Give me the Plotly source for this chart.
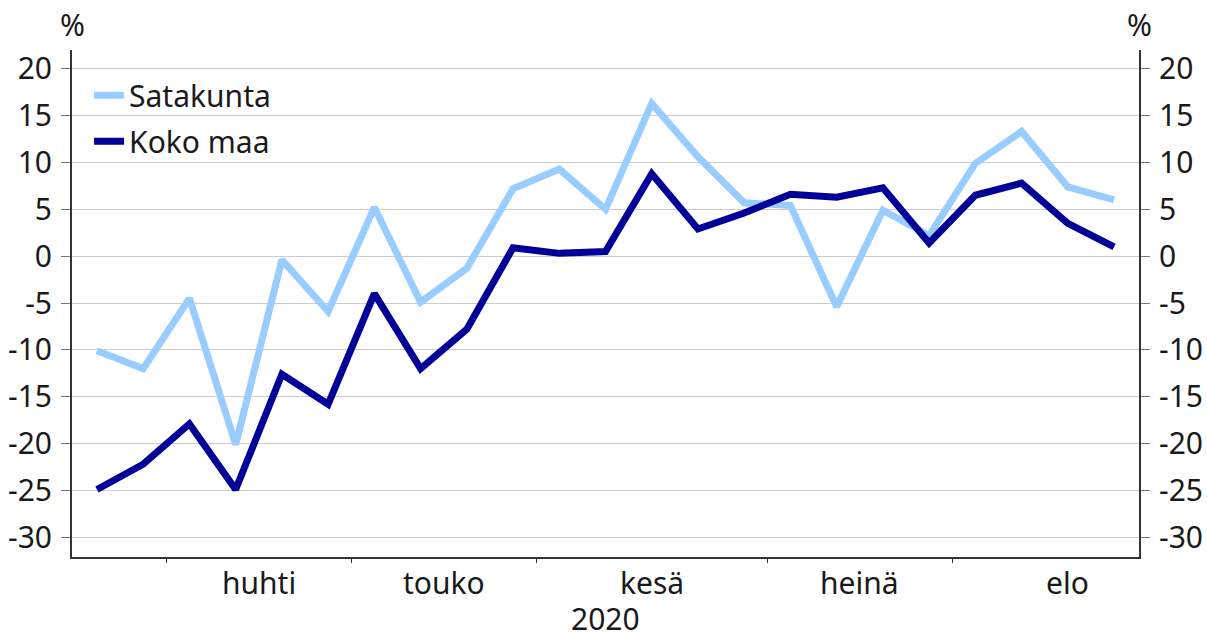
import plotly.graph_objects as go

weeks = list(range(23))
satakunta = [-10.1, -12.0, -4.5, -20.1, -0.4, -5.9, 5.2, -4.9, -1.3, 7.2, 9.3, 5.0,
             16.3, 10.6, 5.7, 5.4, -5.4, 4.9, 2.2, 9.9, 13.3, 7.4, 6.0]
koko_maa = [-24.9, -22.2, -17.9, -24.9, -12.6, -15.8, -4.0, -12.0, -7.8, 0.9, 0.3, 0.5,
            8.8, 2.9, 4.6, 6.6, 6.3, 7.3, 1.4, 6.5, 7.8, 3.5, 1.0]
month_labels = ["huhti", "touko", "kesä", "heinä", "elo"]
month_centers = [3.5, 7.5, 12, 16.5, 21]
month_bounds = [1.5, 5.5, 9.5, 14.5, 18.5]
y_ticks = [20, 15, 10, 5, 0, -5, -10, -15, -20, -25, -30]
y_ticktext = [str(v) for v in y_ticks]
year_label = "2020"

FONT = "Noto Sans"
fs = 30

fig = go.Figure()
fig.add_trace(go.Scatter(x=weeks, y=satakunta, name="Satakunta", mode="lines",
                         legendgroup="a", line=dict(color="#99ccff", width=7)))
fig.add_trace(go.Scatter(x=weeks, y=koko_maa, name="Koko maa", mode="lines",
                         legendgroup="b", line=dict(color="#000099", width=7)))
fig.add_trace(go.Scatter(x=[None], y=[None], yaxis="y2", showlegend=False,
                         hoverinfo="skip"))

yr = [-32.1, 22.0]
axis_common = dict(range=yr, tickvals=y_ticks, ticktext=y_ticktext, ticks="outside",
                   ticklen=9, tickcolor="#777", showline=True, linecolor="#333",
                   linewidth=2, zeroline=False, tickfont=dict(size=fs),
                   automargin=False, ticklabelstandoff=3)
fig.update_layout(
    width=1207, height=638,
    margin=dict(l=72, r=68, t=50, b=81),
    paper_bgcolor="white", plot_bgcolor="white",
    font=dict(family=FONT, size=fs, color="#1a1a1a"),
    showlegend=True,
    legend=dict(x=0.016, y=0.962, xanchor="left", yanchor="top", bgcolor="rgba(0,0,0,0)",
                font=dict(size=fs), tracegroupgap=4, itemwidth=30),
    xaxis=dict(range=[-0.54, 22.54], tickvals=month_bounds, ticktext=[""] * 5,
               ticks="outside", ticklen=4, tickcolor="#333", showgrid=False,
               showline=True, linecolor="#333", linewidth=2, zeroline=False,
               automargin=False),
    yaxis=dict(showgrid=True, gridcolor="#cccccc", gridwidth=1, **axis_common),
    yaxis2=dict(overlaying="y", side="right", showgrid=False, **axis_common),
)

for lab, c in zip(month_labels, month_centers):
    fig.add_annotation(x=c, y=0, xref="x", yref="paper", text=lab, showarrow=False,
                       yanchor="top", yshift=-3, font=dict(size=fs))
fig.add_annotation(x=0.5, y=0, xref="paper", yref="paper", text=year_label, showarrow=False,
                   yanchor="top", yshift=-40, borderpad=0, font=dict(size=fs))
fig.add_annotation(x=0, y=1, xref="paper", yref="paper", text="%", showarrow=False,
                   yanchor="bottom", xanchor="center", yshift=3, font=dict(size=fs))
fig.add_annotation(x=1, y=1, xref="paper", yref="paper", text="%", showarrow=False,
                   yanchor="bottom", xanchor="center", yshift=3, font=dict(size=fs))

fig.write_html("out.html", config={"displayModeBar": False},
               post_script="document.body.style.margin='0';")
